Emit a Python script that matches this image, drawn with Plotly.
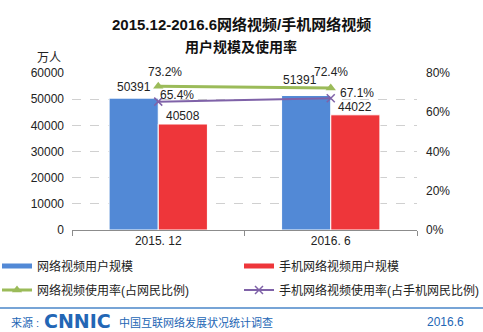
import plotly.graph_objects as go

categories = ["2015. 12", "2016. 6"]
video_users = [50391, 51391]
mobile_video_users = [40508, 44022]
video_rate = [0.732, 0.724]
mobile_video_rate = [0.654, 0.671]

names = ["网络视频用户规模", "手机网络视频用户规模",
         "网络视频使用率(占网民比例)", "手机网络视频使用率(占手机网民比例)"]

BLUE = "#5289D6"
RED = "#EE363A"
GREEN = "#9BBB59"
PURPLE = "#7F62A8"
FOOT = "#2366B5"
FONT = "Liberation Sans, Noto Sans CJK SC, sans-serif"

# plot area geometry (pixels)
L, R, T, B = 72, 66, 73, 102
W, H = 483, 332
PW, PH = W - L - R, H - T - B


def px_x(px):
    return (px - L) / PW


def px_y(py):
    return (H - B - py) / PH


fig = go.Figure()
fig.add_bar(x=categories, y=video_users, name=names[0], marker_color=BLUE,
            marker_line=dict(color="white", width=1), showlegend=False)
fig.add_bar(x=categories, y=mobile_video_users, name=names[1], marker_color=RED,
            marker_line=dict(color="white", width=1), showlegend=False)

# legend proxies for the bars (drawn as thick lines, like the reference)
fig.add_scatter(x=[None], y=[None], mode="lines", name=names[0],
                line=dict(color=BLUE, width=5), legend="legend")
fig.add_scatter(x=[None], y=[None], mode="lines", name=names[1],
                line=dict(color=RED, width=5), legend="legend2")

fig.add_scatter(x=categories, y=video_rate, yaxis="y2", mode="lines+markers",
                name=names[2], line=dict(color=GREEN, width=3),
                marker=dict(symbol="triangle-up", size=9, color=GREEN),
                legend="legend3", cliponaxis=False)
fig.add_scatter(x=categories, y=mobile_video_rate, yaxis="y2", mode="lines+markers",
                name=names[3], line=dict(color=PURPLE, width=2),
                marker=dict(symbol="x-thin", size=8, line=dict(color=PURPLE, width=1.5)),
                legend="legend4", cliponaxis=False)

ann = []
lab_font = dict(family=FONT, size=12, color="#222")
# bar labels
bar_shift = [(0, 11), (-6, 16)]
for i, c in enumerate(categories):
    ann.append(dict(x=c, y=video_users[i], xref="x", yref="y", text=str(video_users[i]),
                    showarrow=False, xshift=-24.5 + bar_shift[i][0], yshift=bar_shift[i][1],
                    xanchor="center", yanchor="middle", font=lab_font))
    ann.append(dict(x=c, y=mobile_video_users[i], xref="x", yref="y",
                    text=str(mobile_video_users[i]), showarrow=False, xshift=24.5, yshift=8,
                    xanchor="center", yanchor="middle", font=lab_font))
# line labels
g_shift = [(7, 14), (0, 16)]
p_shift = [(19, 7), (26, 5)]
for i, c in enumerate(categories):
    ann.append(dict(x=c, y=video_rate[i], xref="x", yref="y2", text=f"{video_rate[i]*100:.1f}%",
                    showarrow=False, xshift=g_shift[i][0], yshift=g_shift[i][1],
                    xanchor="center", yanchor="middle", font=lab_font))
    ann.append(dict(x=c, y=mobile_video_rate[i], xref="x", yref="y2",
                    text=f"{mobile_video_rate[i]*100:.1f}%", showarrow=False,
                    xshift=p_shift[i][0], yshift=p_shift[i][1],
                    xanchor="center", yanchor="middle", font=lab_font))


def note(px, py, text, font, xanchor="center"):
    return dict(x=px_x(px), y=px_y(py), xref="paper", yref="paper", showarrow=False,
                xanchor=xanchor, yanchor="middle", text=text, font=font)


# titles
ann.append(note(241, 24, "<b>2015.12-2016.6网络视频/手机网络视频</b>",
                dict(family=FONT, size=15, color="#111")))
ann.append(note(241, 47, "<b>用户规模及使用率</b>", dict(family=FONT, size=14, color="#111")))
ann.append(note(49, 58, "万人", dict(family=FONT, size=12, color="#222")))

# footer
ann.append(note(9, 322, "来源 :", dict(family=FONT, size=11, color=FOOT), "left"))
ann.append(note(42, 321, "<b>CNNIC</b>",
                dict(family="DejaVu Sans, sans-serif", size=19, color=FOOT), "left"))
ann.append(note(117, 322, "中国互联网络发展状况统计调查",
                dict(family=FONT, size=11, color=FOOT), "left"))
ann.append(note(466, 322, "2016.6", dict(family=FONT, size=12, color=FOOT), "right"))


def leg(px, py):
    return dict(orientation="h", x=px_x(px), y=px_y(py), xanchor="left", yanchor="middle",
                font=dict(size=12, color="#222"), bgcolor="rgba(0,0,0,0)")


fig.update_layout(
    width=W, height=H,
    margin=dict(l=L, r=R, t=T, b=B, autoexpand=False),
    paper_bgcolor="white", plot_bgcolor="white",
    font=dict(family=FONT, size=12, color="#222"),
    barmode="group", bargap=0.43, bargroupgap=0,
    annotations=ann,
    xaxis=dict(type="category", range=[-0.5, 1.5], showline=True, linecolor="#8C8C8C",
               linewidth=1, ticks="outside", tickson="boundaries", ticklen=5,
               tickcolor="#8C8C8C", showgrid=False, tickfont=dict(size=12, color="#222")),
    yaxis=dict(range=[0, 60000], dtick=10000, tickformat="d", showgrid=True,
               gridcolor="#D0D0D0", griddash="dash", gridwidth=1, zeroline=False,
               showline=False, tickfont=dict(size=12, color="#222"), ticklabelstandoff=7),
    yaxis2=dict(range=[0, 0.8], dtick=0.2, tickformat=".0%", overlaying="y", side="right",
                showgrid=False, zeroline=False, showline=False,
                tickfont=dict(size=12, color="#222"), ticklabelstandoff=8),
    legend=leg(-3, 266),
    legend2=leg(239, 266),
    legend3=leg(-3, 290),
    legend4=leg(239, 290),
    shapes=[dict(type="line", xref="paper", yref="paper", x0=px_x(0), x1=px_x(W),
                 y0=px_y(308), y1=px_y(308), line=dict(color="#4A86C8", width=1.5))],
)

fig.write_html("out.html")
